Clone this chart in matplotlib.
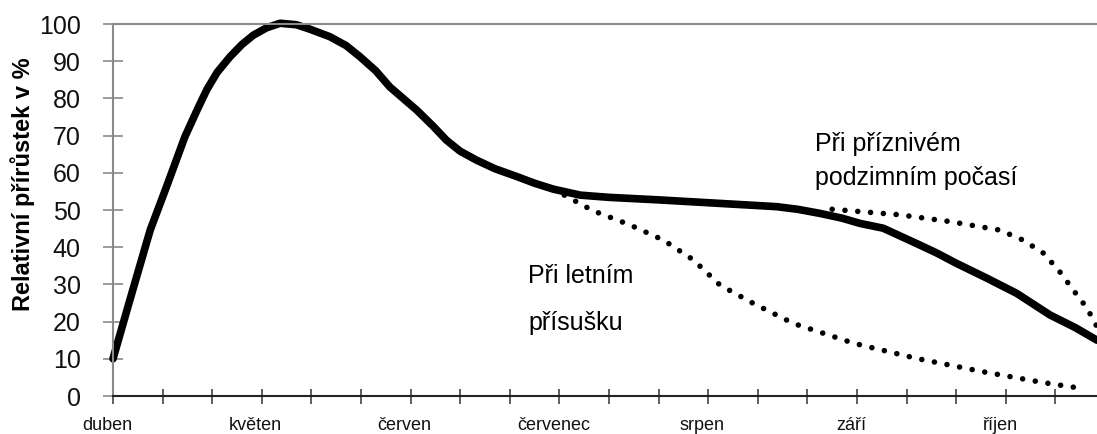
import numpy as np
import matplotlib
matplotlib.use('Agg')

import matplotlib.pyplot as plt
from matplotlib.transforms import ScaledTranslation

plt.rcParams['font.family'] = ['Liberation Sans', 'DejaVu Sans']

# x in tick units: one tick = ~10 days, a month = 3 ticks, 0 = duben
months = ["duben", "květen", "červen", "červenec", "srpen", "září", "říjen"]
month_pos = [0, 3, 6, 9, 12, 15, 18]

# main curve (relative increment in %)
main_x = [0, 0.34, 0.75, 1.08, 1.45, 1.7, 1.89, 2.1, 2.36, 2.6, 2.83, 3.1, 3.37,
          3.7, 3.97, 4.37, 4.7, 4.98, 5.3, 5.58, 6.12, 6.45, 6.72, 7.0, 7.33,
          7.7, 8.14, 8.5, 8.88, 9.42, 10.0, 11.03, 12.2, 13.38, 13.8, 14.25,
          14.7, 15.06, 15.53, 16.2, 16.6, 17.0, 17.6, 18.22, 18.89, 19.4, 19.84]
main_y = [10, 25.8, 44.6, 56.3, 69.7, 77, 82.3, 87, 91.2, 94.5, 97, 99, 100.2,
          99.8, 98.6, 96.6, 94.2, 91.2, 87.4, 83.1, 76.9, 72.6, 68.8, 65.8, 63.4,
          61.1, 59, 57.2, 55.6, 54.0, 53.4, 52.7, 51.8, 50.9, 50.2, 49.1,
          47.8, 46.4, 45.1, 41, 38.5, 35.7, 31.8, 27.6, 21.8, 18.4, 15]

# summer drought
dry_x = [9.1, 9.68, 10.42, 11.1, 11.7, 12.24, 12.91, 13.72, 14.93, 16.2, 17.55, 18.76, 19.5]
dry_y = [54, 49.8, 46, 41.9, 36.6, 29.8, 24.9, 19.5, 14.2, 10.1, 6.5, 3.6, 2.1]

# favourable autumn
aut_x = [14.5, 14.86, 15.87, 16.87, 17.88, 18.35, 18.76, 19.09, 19.36, 19.64, 19.84]
aut_y = [50.2, 49.8, 48.7, 46.9, 44.6, 41.9, 38.4, 33.4, 28.5, 23.6, 18.6]

fig = plt.figure(figsize=(10.97, 4.34), dpi=100)
ax = fig.add_axes([113/1097, 38/434, 984/1097, 372/434])

ax.plot(main_x, main_y, color='black', lw=5.5, solid_capstyle='round',
        solid_joinstyle='round', clip_on=False)
ax.plot(dry_x, dry_y, color='black', lw=4, linestyle=(0, (0.01, 2.3)),
        dash_capstyle='round')
ax.plot(aut_x, aut_y, color='black', lw=4, linestyle=(0, (0.01, 2.3)),
        dash_capstyle='round')

ax.set_xlim(0, 19.84)
ax.set_ylim(0, 100)

ax.spines['right'].set_visible(False)
ax.spines['top'].set_color('#8a8a8a')
ax.spines['top'].set_linewidth(1.5)
ax.spines['left'].set_color('#8a8a8a')
ax.spines['left'].set_linewidth(1.5)
ax.spines['bottom'].set_color('#222222')
ax.spines['bottom'].set_linewidth(1.5)

ax.set_yticks(np.arange(0, 101, 10))
ax.tick_params(axis='y', direction='inout', length=14.4, width=1.2,
               color='#8a8a8a', labelsize=18, pad=16, labelcolor='#111111')

ax.set_xticks(month_pos)
ax.set_xticklabels(months)
ax.set_xticks(np.arange(0, 20), minor=True)
ax.tick_params(axis='x', which='both', direction='inout', length=10.8,
               width=1.2, color='#444444', labelsize=13, pad=10,
               labelcolor='#111111')
# labels sit a little left of their ticks in the original
shift = ScaledTranslation(-6/100, 0, fig.dpi_scale_trans)
for lab in ax.get_xticklabels():
    lab.set_transform(lab.get_transform() + shift)

fig.text(23/1097, 1 - 184/434, "Relativní přírůstek v %", rotation=90,
         ha='center', va='center', fontsize=17, fontweight='bold')

ax.text(14.15, 65.9, "Při příznivém", fontsize=18, va='baseline', ha='left')
ax.text(14.15, 56.7, "podzimním počasí", fontsize=18, va='baseline', ha='left')
ax.text(8.37, 30.4, "Při letním", fontsize=18, va='baseline', ha='left')
ax.text(8.37, 17.7, "přísušku", fontsize=18, va='baseline', ha='left')

fig.savefig('out.png', dpi=100)
